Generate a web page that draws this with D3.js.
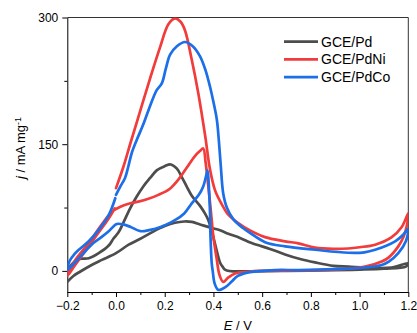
<!DOCTYPE html>
<html>
<head>
<meta charset="utf-8">
<script src="https://cdn.jsdelivr.net/npm/d3@7"></script>
<style>
body { margin: 0; background: #fff; }
svg { display: block; font-family: "Liberation Sans", Arial, sans-serif; }
.axis text { font-size: 12px; fill: #000; }
.axis path, .axis line { stroke: #000; }
</style>
</head>
<body>
<script>

// cyclic voltammograms, [E (V), j (mA mg-1)] in scan order
const pdLoop = [
  [-0.2, -13], [-0.175, -6], [-0.148, -1], [-0.1, 7], [-0.058, 13], [0.0, 21], [0.052, 31],
  [0.1, 38], [0.153, 46.5], [0.2, 53], [0.242, 57], [0.28, 58.5], [0.311, 58], [0.345, 55],
  [0.39, 51], [0.427, 48], [0.461, 44], [0.509, 39], [0.557, 33], [0.632, 26], [0.694, 19.5],
  [0.756, 14], [0.817, 10], [0.892, 6], [0.954, 5], [1.064, 3.5], [1.13, 4], [1.2, 9],
  [1.19, 5], [1.1, 2.5], [1.0, 1.5], [0.9, 1], [0.7, 0], [0.55, -0.5], [0.48, -0.5], [0.455, 0.5],
  [0.445, 2], [0.435, 6], [0.427, 10], [0.41, 28], [0.395, 45], [0.379, 60], [0.365, 68],
  [0.345, 77], [0.311, 89], [0.29, 100], [0.27, 111], [0.25, 121], [0.225, 126], [0.2, 124],
  [0.167, 119], [0.14, 110], [0.112, 100], [0.085, 88], [0.058, 74], [0.03, 57], [0.011, 46],
  [-0.011, 38], [-0.03, 30], [-0.071, 21], [-0.112, 15], [-0.153, 14], [-0.181, 8], [-0.2, 1]
]

const pdniLoop = [
  [0.0, 98], [0.03, 123], [0.06, 152], [0.1, 190], [0.14, 228], [0.18, 264], [0.215, 292],
  [0.242, 299], [0.265, 295], [0.283, 285], [0.311, 250], [0.338, 210], [0.366, 160],
  [0.386, 120], [0.407, 95], [0.434, 79], [0.46, 67], [0.5, 57], [0.55, 48], [0.612, 40],
  [0.694, 35], [0.749, 32.5], [0.817, 27.5], [0.892, 26], [0.954, 26.5], [1.0, 28], [1.064, 31],
  [1.132, 40], [1.173, 52], [1.2, 68],
  [1.195, 55], [1.18, 40], [1.159, 29], [1.12, 16], [1.091, 11], [1.023, 5], [0.95, 2.5],
  [0.886, 1.5], [0.75, 0.5], [0.6, 0], [0.543, -1], [0.489, -3], [0.46, -8], [0.44, -13],
  [0.425, -5], [0.413, 15], [0.4, 40], [0.388, 75], [0.379, 100], [0.368, 128], [0.358, 145],
  [0.345, 142], [0.324, 136], [0.29, 122], [0.256, 108], [0.22, 97], [0.174, 90], [0.13, 85],
  [0.092, 82], [0.059, 80], [0.018, 76], [-0.017, 70], [-0.058, 55], [-0.112, 33], [-0.167, 13],
  [-0.2, -3],
  [-0.2, -6], [-0.17, 6], [-0.12, 26], [-0.07, 46], [-0.03, 62], [-0.005, 74]
]

const pdcoLoop = [
  [0.0, 90], [0.018, 100], [0.037, 110], [0.05, 123], [0.064, 139], [0.085, 155], [0.11, 172],
  [0.133, 190], [0.167, 214], [0.188, 222], [0.205, 240], [0.222, 256], [0.25, 266],
  [0.283, 271], [0.315, 266], [0.345, 254], [0.367, 238], [0.386, 218], [0.4, 200],
  [0.414, 179], [0.422, 155], [0.43, 125], [0.44, 92], [0.455, 75], [0.482, 61], [0.52, 51],
  [0.55, 45], [0.612, 34], [0.694, 29], [0.817, 25], [0.954, 21.5], [1.02, 22], [1.064, 25],
  [1.146, 35], [1.18, 43], [1.2, 50],
  [1.19, 35], [1.159, 21], [1.12, 11], [1.091, 7], [1.023, 4], [0.9, 2], [0.75, 1], [0.653, 1],
  [0.55, -1.5], [0.5, -6], [0.475, -12.6], [0.45, -19], [0.42, -22.5], [0.405, -15],
  [0.397, 0], [0.393, 9], [0.388, 40], [0.386, 68], [0.382, 95], [0.376, 119], [0.368, 110],
  [0.358, 100], [0.34, 90], [0.311, 80], [0.28, 68], [0.242, 60], [0.2, 54], [0.174, 51],
  [0.14, 48.5], [0.1, 47], [0.06, 52], [0.03, 55], [0.003, 55.5], [-0.03, 47], [-0.06, 40],
  [-0.093, 33], [-0.14, 19], [-0.181, 6], [-0.2, 1],
  [-0.19, 12], [-0.17, 20], [-0.153, 25], [-0.112, 35], [-0.071, 48.5], [-0.03, 66], [-0.003, 86]
]

const seriesNames = ["GCE/Pd", "GCE/PdNi", "GCE/PdCo"]
const seriesColors = ["#4d4d4d", "#f23b3b", "#1c6fe8"]
const xTicks = [-0.2, 0.0, 0.2, 0.4, 0.6, 0.8, 1.0, 1.2]
const xMinor = [-0.1, 0.1, 0.3, 0.5, 0.7, 0.9, 1.1]
const yTicks = [0, 150, 300]
const yMinor = [75, 225]

const series = seriesNames.map((name, i) => ({
  name: name,
  color: seriesColors[i],
  values: [pdLoop, pdniLoop, pdcoLoop][i]
}))

const margin = {top: 17.5, right: 8.7, bottom: 41, left: 67.3}
const width = 417 - margin.left - margin.right
const height = 333 - margin.top - margin.bottom

const xScale = d3.scaleLinear().domain([-0.2, 1.2]).range([0, width])
const yScale = d3.scaleLinear().domain([-25, 300]).range([height, 0])

const svg = d3.select("body")
  .append("svg")
  .attr("width", 417)
  .attr("height", 333)
  .append("g")
  .attr("transform", "translate(" + margin.left + "," + margin.top + ")")

svg.append("clipPath")
  .attr("id", "plot-clip")
  .append("rect")
  .attr("width", width)
  .attr("height", height)

// minor ticks first, majors with labels on top
svg.append("g")
  .attr("class", "axis")
  .attr("transform", "translate(0," + height + ")")
  .call(d3.axisBottom(xScale).tickValues(xMinor).tickSize(3).tickFormat(""))
  .call(g => g.select(".domain").remove())

svg.append("g")
  .attr("class", "axis")
  .call(d3.axisLeft(yScale).tickValues(yMinor).tickSize(3).tickFormat(""))
  .call(g => g.select(".domain").remove())

svg.append("g")
  .attr("class", "axis")
  .attr("transform", "translate(0," + height + ")")
  .call(d3.axisBottom(xScale).tickValues(xTicks).tickSize(5).tickSizeOuter(0).tickPadding(4)
    .tickFormat(d3.format(".1f")))

svg.append("g")
  .attr("class", "axis")
  .call(d3.axisLeft(yScale).tickValues(yTicks).tickSize(5).tickSizeOuter(0).tickPadding(4))

// box top and right
svg.append("path")
  .attr("d", "M0,0H" + width + "V" + height)
  .attr("fill", "none")
  .attr("stroke", "#333")
  .attr("stroke-width", 1)

const line = d3.line()
  .curve(d3.curveCatmullRom.alpha(0.5))
  .x(d => xScale(d[0]))
  .y(d => yScale(d[1]))

svg.append("g")
  .attr("clip-path", "url(#plot-clip)")
  .selectAll(".loop")
  .data(series)
  .enter()
  .append("path")
  .attr("class", "loop")
  .attr("d", d => line(d.values))
  .attr("fill", "none")
  .attr("stroke", d => d.color)
  .attr("stroke-width", 2.7)
  .attr("stroke-linejoin", "round")
  .attr("stroke-linecap", "round")

// legend
const legend = svg.selectAll(".legend")
  .data(series)
  .enter()
  .append("g")
  .attr("class", "legend")
  .attr("transform", (d, i) => "translate(" + (284 - margin.left) + "," + (41.7 - margin.top + i * 17.7) + ")")

legend.append("line")
  .attr("x1", 0)
  .attr("x2", 34)
  .attr("stroke", d => d.color)
  .attr("stroke-width", 2.7)

legend.append("text")
  .attr("x", 37)
  .attr("dy", "0.36em")
  .style("font-size", "14px")
  .text(d => d.name)

// axis titles
const xLabel = svg.append("text")
  .attr("x", width / 2)
  .attr("y", 330 - margin.top)
  .attr("text-anchor", "middle")
  .style("font-size", "13px")
xLabel.append("tspan").style("font-style", "italic").text("E")
xLabel.append("tspan").text(" / V")

const yLabel = svg.append("text")
  .attr("transform", "translate(" + (25 - margin.left) + "," + (148 - margin.top) + ") rotate(-90)")
  .attr("text-anchor", "middle")
  .style("font-size", "13px")
yLabel.append("tspan").style("font-style", "italic").text("j")
yLabel.append("tspan").text(" / mA mg")
yLabel.append("tspan").attr("dy", "-0.45em").style("font-size", "9px").text("-1")

</script>
</body>
</html>
